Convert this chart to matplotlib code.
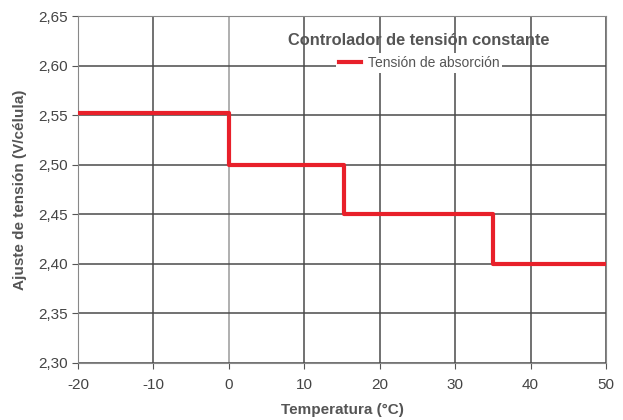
import numpy as np
import matplotlib.pyplot as plt

plt.rcParams['font.family'] = ['Liberation Sans', 'DejaVu Sans']
plt.rcParams['axes.unicode_minus'] = False

# step curve: absorption voltage vs temperature
temp = [-20, 0, 0, 15.3, 15.3, 35, 35, 50]
volt = [2.552, 2.552, 2.50, 2.50, 2.45, 2.45, 2.40, 2.40]

xticks = [-20, -10, 0, 10, 20, 30, 40, 50]
yticks = [2.30, 2.35, 2.40, 2.45, 2.50, 2.55, 2.60, 2.65]
ylabels = ["2,30", "2,35", "2,40", "2,45", "2,50", "2,55", "2,60", "2,65"]

grey = "#555555"

fig = plt.figure(figsize=(6.23, 4.2), dpi=100)
ax = fig.add_axes([78/623, 1 - 363/420, 528/623, 347/420])

for x in xticks:
    ax.axvline(x, color="#4a4a4a" if x != 0 else "#9a9a9a", lw=1.1, zorder=1)
for y in yticks:
    ax.axhline(y, color="#4a4a4a", lw=1.1, zorder=1)

ax.plot(temp, volt, color="#e8202a", lw=3, zorder=3, label="Tensión de absorción")

ax.set_xlim(-20, 50)
ax.set_ylim(2.30, 2.65)
ax.set_xticks(xticks)
ax.set_yticks(yticks)
ax.set_yticklabels(ylabels)
ax.tick_params(colors=grey, labelsize=11, length=4, labelcolor="#444444")
ax.tick_params(axis="x", pad=7)
for s in ax.spines.values():
    s.set_color("#888888")

ax.set_xlabel("Temperatura (°C)", fontsize=11, fontweight="bold", color=grey, labelpad=8)
ax.set_ylabel("Ajuste de tensión (V/célula)", fontsize=11, fontweight="bold", color=grey, labelpad=8)

ax.text(0.646, 0.93, "Controlador de tensión constante", transform=ax.transAxes,
        ha="center", va="center", fontsize=11.8, fontweight="bold", color=grey, zorder=5)
leg = ax.legend(loc="center", bbox_to_anchor=(0.646, 0.865), frameon=True, fontsize=10,
                handlelength=1.6, borderpad=0.2, handletextpad=0.5)
leg.get_frame().set_edgecolor("none")
leg.get_frame().set_facecolor("white")
leg.get_frame().set_alpha(1)
for t in leg.get_texts():
    t.set_color(grey)

fig.savefig("out.png", dpi=100)
